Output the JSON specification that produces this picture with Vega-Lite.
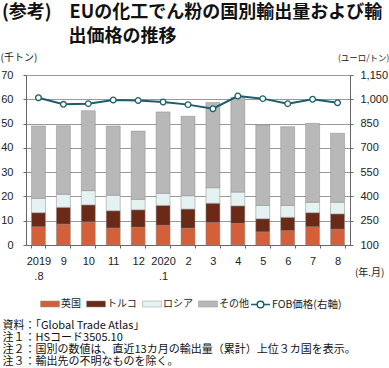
{
  "$schema": "https://vega.github.io/schema/vega-lite/v6.json",
  "autosize": "none",
  "width": 324,
  "height": 170,
  "padding": {"left": 26, "top": 75, "right": 39, "bottom": 123},
  "title": {
    "text": ["(参考)　EUの化工でん粉の国別輸出量および輸", "\u200b　　　\u2002\u2009出価格の推移"],
    "anchor": "start", "frame": "group", "fontSize": 18, "font": "Noto Sans CJK JP",
    "fontWeight": "bold", "lineHeight": 24, "dx": -24, "baseline": "top", "offset": 6, "color": "#111"
  },
  "datasets": {
    "bars": [
      {"m": "2019|.8", "s": "英国", "o": 1, "v": 7.5}, {"m": "2019|.8", "s": "トルコ", "o": 2, "v": 5.8}, {"m": "2019|.8", "s": "ロシア", "o": 3, "v": 5.9}, {"m": "2019|.8", "s": "その他", "o": 4, "v": 29.8},
      {"m": "9", "s": "英国", "o": 1, "v": 8.6}, {"m": "9", "s": "トルコ", "o": 2, "v": 6.9}, {"m": "9", "s": "ロシア", "o": 3, "v": 5.4}, {"m": "9", "s": "その他", "o": 4, "v": 28.2},
      {"m": "10", "s": "英国", "o": 1, "v": 9.5}, {"m": "10", "s": "トルコ", "o": 2, "v": 7.0}, {"m": "10", "s": "ロシア", "o": 3, "v": 5.9}, {"m": "10", "s": "その他", "o": 4, "v": 32.9},
      {"m": "11", "s": "英国", "o": 1, "v": 7.0}, {"m": "11", "s": "トルコ", "o": 2, "v": 7.1}, {"m": "11", "s": "ロシア", "o": 3, "v": 6.4}, {"m": "11", "s": "その他", "o": 4, "v": 28.5},
      {"m": "12", "s": "英国", "o": 1, "v": 7.3}, {"m": "12", "s": "トルコ", "o": 2, "v": 7.2}, {"m": "12", "s": "ロシア", "o": 3, "v": 4.3}, {"m": "12", "s": "その他", "o": 4, "v": 28.1},
      {"m": "2020|.1", "s": "英国", "o": 1, "v": 8.1}, {"m": "2020|.1", "s": "トルコ", "o": 2, "v": 8.2}, {"m": "2020|.1", "s": "ロシア", "o": 3, "v": 5.0}, {"m": "2020|.1", "s": "その他", "o": 4, "v": 33.5},
      {"m": "2", "s": "英国", "o": 1, "v": 6.9}, {"m": "2", "s": "トルコ", "o": 2, "v": 7.9}, {"m": "2", "s": "ロシア", "o": 3, "v": 5.5}, {"m": "2", "s": "その他", "o": 4, "v": 32.7},
      {"m": "3", "s": "英国", "o": 1, "v": 9.2}, {"m": "3", "s": "トルコ", "o": 2, "v": 8.0}, {"m": "3", "s": "ロシア", "o": 3, "v": 6.4}, {"m": "3", "s": "その他", "o": 4, "v": 35.1},
      {"m": "4", "s": "英国", "o": 1, "v": 8.9}, {"m": "4", "s": "トルコ", "o": 2, "v": 7.2}, {"m": "4", "s": "ロシア", "o": 3, "v": 5.7}, {"m": "4", "s": "その他", "o": 4, "v": 39.0},
      {"m": "5", "s": "英国", "o": 1, "v": 5.4}, {"m": "5", "s": "トルコ", "o": 2, "v": 5.4}, {"m": "5", "s": "ロシア", "o": 3, "v": 5.5}, {"m": "5", "s": "その他", "o": 4, "v": 33.1},
      {"m": "6", "s": "英国", "o": 1, "v": 5.9}, {"m": "6", "s": "トルコ", "o": 2, "v": 5.5}, {"m": "6", "s": "ロシア", "o": 3, "v": 4.9}, {"m": "6", "s": "その他", "o": 4, "v": 32.4},
      {"m": "7", "s": "英国", "o": 1, "v": 7.5}, {"m": "7", "s": "トルコ", "o": 2, "v": 5.8}, {"m": "7", "s": "ロシア", "o": 3, "v": 4.3}, {"m": "7", "s": "その他", "o": 4, "v": 32.5},
      {"m": "8", "s": "英国", "o": 1, "v": 6.5}, {"m": "8", "s": "トルコ", "o": 2, "v": 6.3}, {"m": "8", "s": "ロシア", "o": 3, "v": 4.8}, {"m": "8", "s": "その他", "o": 4, "v": 28.4}
    ],
    "fob": [
      {"m": "2019|.8", "p": 1010}, {"m": "9", "p": 969}, {"m": "10", "p": 973}, {"m": "11", "p": 996},
      {"m": "12", "p": 993}, {"m": "2020|.1", "p": 983}, {"m": "2", "p": 967}, {"m": "3", "p": 942},
      {"m": "4", "p": 1020}, {"m": "5", "p": 1004}, {"m": "6", "p": 973}, {"m": "7", "p": 1000}, {"m": "8", "p": 979}
    ]
  },
  "layer": [
    {
      "data": {"name": "bars"},
      "mark": {"type": "bar", "stroke": "#8c8c8c", "strokeWidth": 0.5},
      "encoding": {
        "x": {
          "field": "m", "type": "nominal",
          "sort": ["2019|.8", "9", "10", "11", "12", "2020|.1", "2", "3", "4", "5", "6", "7", "8"],
          "scale": {"paddingInner": 0.44, "paddingOuter": 0.22},
          "axis": {
            "orient": "bottom",
            "labelExpr": "isValid(datum.value) ? split(datum.value, '|') : ''", "labelAngle": 0, "tickBand": "extent",
            "tickSize": 3, "labelPadding": 7, "labelLineHeight": 15, "labelBaseline": "top",
            "title": ["資料：「Global Trade Atlas」", "注１：HSコード3505.10", "注２：国別の数値は、直近13カ月の輸出量（累計）上位３カ国を表示。", "注３：輸出先の不明なものを除く。"],
            "titleX": -24, "titleY": 74, "titleAlign": "left", "titleAnchor": null,
            "titleBaseline": "top", "titleFontSize": 11, "titleLineHeight": 12, "titleFontWeight": "normal",
            "titleFont": "Noto Sans CJK JP", "titleColor": "#111"
          }
        },
        "y": {
          "field": "v", "type": "quantitative", "stack": "zero",
          "scale": {"domain": [0, 70], "nice": false},
          "axis": {
            "values": [0, 10, 20, 30, 40, 50, 60, 70], "grid": true, "tickSize": 3, "labelPadding": 10,
            "title": "(千トン)", "titleAngle": 0, "titleX": -26, "titleY": -18, "titleAlign": "left",
            "titleBaseline": "middle", "titleFontSize": 10, "titleFontWeight": "normal", "titleFont": "Noto Sans CJK JP"
          }
        },
        "color": {
          "field": "s", "type": "nominal",
          "scale": {
            "domain": ["英国", "トルコ", "ロシア", "その他"],
            "range": ["#d4603a", "#6b2917", "#e4f2f2", "#b8b8b8"]
          },
          "legend": {
            "orient": "none", "legendX": 14, "legendY": 219, "direction": "horizontal", "title": null,
            "symbolType": "M-1,-0.32H1V0.32H-1Z", "symbolSize": 361, "labelFontSize": 10,
            "symbolStrokeColor": "#999999", "symbolStrokeWidth": 0.5,
            "labelFont": "Noto Sans CJK JP", "columnPadding": 4, "labelOffset": 1
          }
        },
        "order": {"field": "o", "type": "quantitative"}
      }
    },
    {
      "data": {"name": "fob"},
      "encoding": {
        "x": {
          "field": "m", "type": "nominal",
          "sort": ["2019|.8", "9", "10", "11", "12", "2020|.1", "2", "3", "4", "5", "6", "7", "8"],
          "axis": {
            "orient": "top", "labels": false, "ticks": false, "domain": false, "grid": false,
            "title": "(年.月)", "titleX": 358, "titleY": 197, "titleAlign": "right", "titleAnchor": null,
            "titleBaseline": "middle", "titleFontSize": 10, "titleFontWeight": "normal", "titleFont": "Noto Sans CJK JP"
          }
        },
        "y": {
          "field": "p", "type": "quantitative",
          "scale": {"domain": [100, 1150], "nice": false},
          "axis": {
            "orient": "right", "values": [100, 250, 400, 550, 700, 850, 1000, 1150], "format": ",d",
            "grid": false, "tickSize": 3, "labelPadding": 7,
            "title": "(ユーロ/トン)", "titleAngle": 0, "titleX": 39, "titleY": -18, "titleAlign": "right",
            "titleBaseline": "middle", "titleFontSize": 8.5, "titleFontWeight": "normal", "titleFont": "Noto Sans CJK JP"
          }
        }
      },
      "layer": [
        {
          "mark": {"type": "line", "strokeWidth": 2},
          "encoding": {
            "stroke": {
              "datum": "FOB価格(右軸)",
              "scale": {"range": ["#1b5e6e"]},
              "legend": {
                "orient": "none", "legendX": 224, "legendY": 219, "direction": "horizontal", "title": null,
                "symbolType": "M-1,0H-0.35M0.35,0H1M0.35,0A0.35,0.35 0 1 1 -0.35,0A0.35,0.35 0 1 1 0.35,0Z",
                "symbolSize": 361, "symbolStrokeWidth": 1.5, "symbolFillColor": "white",
                "labelFontSize": 10.5, "labelFont": "Noto Sans CJK JP", "labelOffset": 1
              }
            }
          }
        },
        {
          "mark": {"type": "point", "filled": true, "fill": "white", "stroke": "#1b5e6e", "strokeWidth": 1.3, "size": 32, "opacity": 1},
          "encoding": {}
        }
      ]
    }
  ],
  "resolve": {"scale": {"y": "independent"}, "axis": {"x": "independent"}},
  "config": {
    "font": "Noto Sans CJK JP",
    "view": {"stroke": null},
    "axis": {
      "labelFont": "Liberation Sans", "labelFontSize": 11, "labelColor": "#222",
      "domainColor": "#666", "tickColor": "#666", "gridColor": "#9a9a9a", "gridWidth": 1, "titleColor": "#222"
    },
    "legend": {"labelColor": "#222"}
  }
}
